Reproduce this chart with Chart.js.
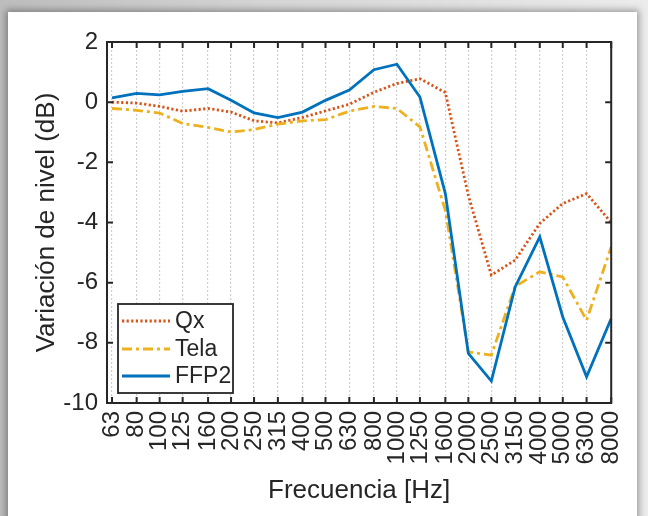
<!DOCTYPE html>
<html>
<head>
<meta charset="utf-8">
<script src="https://cdn.jsdelivr.net/npm/chart.js@4/dist/chart.umd.min.js"></script>
<style>
  html, body { margin: 0; padding: 0; width: 648px; height: 516px; overflow: hidden; }
  body { background: linear-gradient(to right, #bdbdbd 0, #d4d4d4 40%, #ececec 100%); position: relative; }
  #card {
    position: absolute; left: 8px; top: 12px; width: 629px; height: 530px;
    background: #fff; box-shadow: 0 0 7px 2px rgba(0,0,0,0.35);
  }
  #chart { position: absolute; left: 0; top: 0; }
</style>
</head>
<body>
<div id="card"></div>
<canvas id="chart" width="648" height="516"></canvas>
<script>
// third-octave band centres (Hz)
const freqs = [63, 80, 100, 125, 160, 200, 250, 315, 400, 500, 630, 800,
               1000, 1250, 1600, 2000, 2500, 3150, 4000, 5000, 6300, 8000];

// level variation (dB) per band
const qx   = [0.00, -0.03, -0.14, -0.30, -0.21, -0.33, -0.62, -0.69, -0.51, -0.29, -0.07, 0.33,
              0.62, 0.78, 0.32, -3.10, -5.75, -5.25, -4.03, -3.37, -3.04, -4.00];
const tela = [-0.21, -0.27, -0.36, -0.71, -0.84, -0.99, -0.91, -0.73, -0.62, -0.58, -0.30, -0.14,
              -0.21, -0.82, -3.60, -8.30, -8.41, -6.12, -5.64, -5.81, -7.25, -4.81];
const ffp2 = [0.14, 0.29, 0.24, 0.36, 0.45, 0.06, -0.36, -0.51, -0.33, 0.06, 0.40, 1.08,
              1.26, 0.17, -3.04, -8.35, -9.27, -6.14, -4.48, -7.14, -9.13, -7.19];

const seriesNames = ['Qx', 'Tela', 'FFP2'];
const yTicks = [-10, -8, -6, -4, -2, 0, 2];

const FONT = "'Liberation Sans', Arial, sans-serif";
const INK  = '#262626';

const COLOR_QX   = '#D95319';
const COLOR_TELA = '#EDB120';
const COLOR_FFP2 = '#0072BD';

function toPoints(values) {
  return values.map((v, i) => ({ x: freqs[i], y: v }));
}

function makeDataset(label, color, values, dash, order) {
  return {
    label,
    data: toPoints(values),
    borderColor: color,
    backgroundColor: color,
    borderWidth: 2.8,
    borderDash: dash,
    pointRadius: 0,
    tension: 0,
    order,
  };
}

// MATLAB-style box, inward ticks and legend inside the axes
const boxPlugin = {
  id: 'box',
  afterDraw(chart) {
    const { ctx, chartArea: a, scales: { x, y } } = chart;
    ctx.save();
    ctx.strokeStyle = INK;
    ctx.lineWidth = 2;
    ctx.setLineDash([]);
    ctx.beginPath();
    x.ticks.forEach(t => {
      const px = x.getPixelForValue(t.value);
      ctx.moveTo(px, a.top);    ctx.lineTo(px, a.top + 6);
      ctx.moveTo(px, a.bottom); ctx.lineTo(px, a.bottom - 6);
    });
    y.ticks.forEach(t => {
      const py = y.getPixelForValue(t.value);
      ctx.moveTo(a.left, py);  ctx.lineTo(a.left + 6, py);
      ctx.moveTo(a.right, py); ctx.lineTo(a.right - 6, py);
    });
    ctx.stroke();
    ctx.strokeRect(a.left, a.top, a.width, a.height);

    // legend
    const lx = a.left + 11, ly = a.top + 262, lw = 115, lh = 89;
    ctx.fillStyle = '#fff';
    ctx.fillRect(lx, ly, lw, lh);
    ctx.lineWidth = 1.8;
    ctx.strokeRect(lx, ly, lw, lh);
    ctx.font = '23px ' + FONT;
    ctx.textBaseline = 'middle';
    ctx.textAlign = 'left';
    const rows = [17, 45, 72];
    chart.data.datasets.forEach((ds, i) => {
      const ry = ly + rows[i];
      ctx.strokeStyle = ds.borderColor;
      ctx.lineWidth = ds.borderWidth;
      ctx.setLineDash(ds.borderDash || []);
      ctx.beginPath();
      ctx.moveTo(lx + 4, ry);
      ctx.lineTo(lx + 52, ry);
      ctx.stroke();
      ctx.setLineDash([]);
      ctx.fillStyle = INK;
      ctx.fillText(ds.label, lx + 57, ry + 1);
    });
    ctx.restore();
  }
};

new Chart(document.getElementById('chart'), {
  type: 'line',
  data: {
    datasets: [
      makeDataset(seriesNames[0], COLOR_QX,   qx,   [2.2, 2.4], 2),
      makeDataset(seriesNames[1], COLOR_TELA, tela, [10, 4, 3, 4], 1),
      makeDataset(seriesNames[2], COLOR_FFP2, ffp2, [], 0),
    ],
  },
  options: {
    responsive: false,
    animation: false,
    devicePixelRatio: 1,
    layout: { padding: { left: 30, top: 42, right: 33, bottom: 8 } },
    plugins: {
      legend: { display: false },
      tooltip: { enabled: false },
    },
    scales: {
      x: {
        type: 'logarithmic',
        min: 60,
        max: 8000,
        afterBuildTicks: scale => { scale.ticks = freqs.map(v => ({ value: v })); },
        afterFit: scale => { scale.height = 105; },
        grid: { color: '#cfcfcf', lineWidth: 1.2, drawTicks: false },
        border: { display: false, dash: [2, 2] },
        ticks: {
          autoSkip: false,
          minRotation: 90,
          maxRotation: 90,
          padding: 8,
          color: INK,
          font: { family: FONT, size: 24 },
          callback: v => String(v),
        },
        title: {
          display: true,
          text: 'Frecuencia [Hz]',
          color: INK,
          font: { family: FONT, size: 26 },
          padding: { top: 0, bottom: 2 },
        },
      },
      y: {
        min: -10,
        max: 2,
        afterBuildTicks: scale => { scale.ticks = yTicks.map(v => ({ value: v })); },
        afterFit: scale => { scale.width = 77; },
        grid: { display: false, drawTicks: false },
        border: { display: false },
        ticks: {
          padding: 9,
          color: INK,
          font: { family: FONT, size: 24 },
        },
        title: {
          display: true,
          text: 'Variación de nivel (dB)',
          color: INK,
          font: { family: FONT, size: 26 },
          padding: { top: 1, bottom: 0 },
        },
      },
    },
  },
  plugins: [boxPlugin],
});
</script>
</body>
</html>
